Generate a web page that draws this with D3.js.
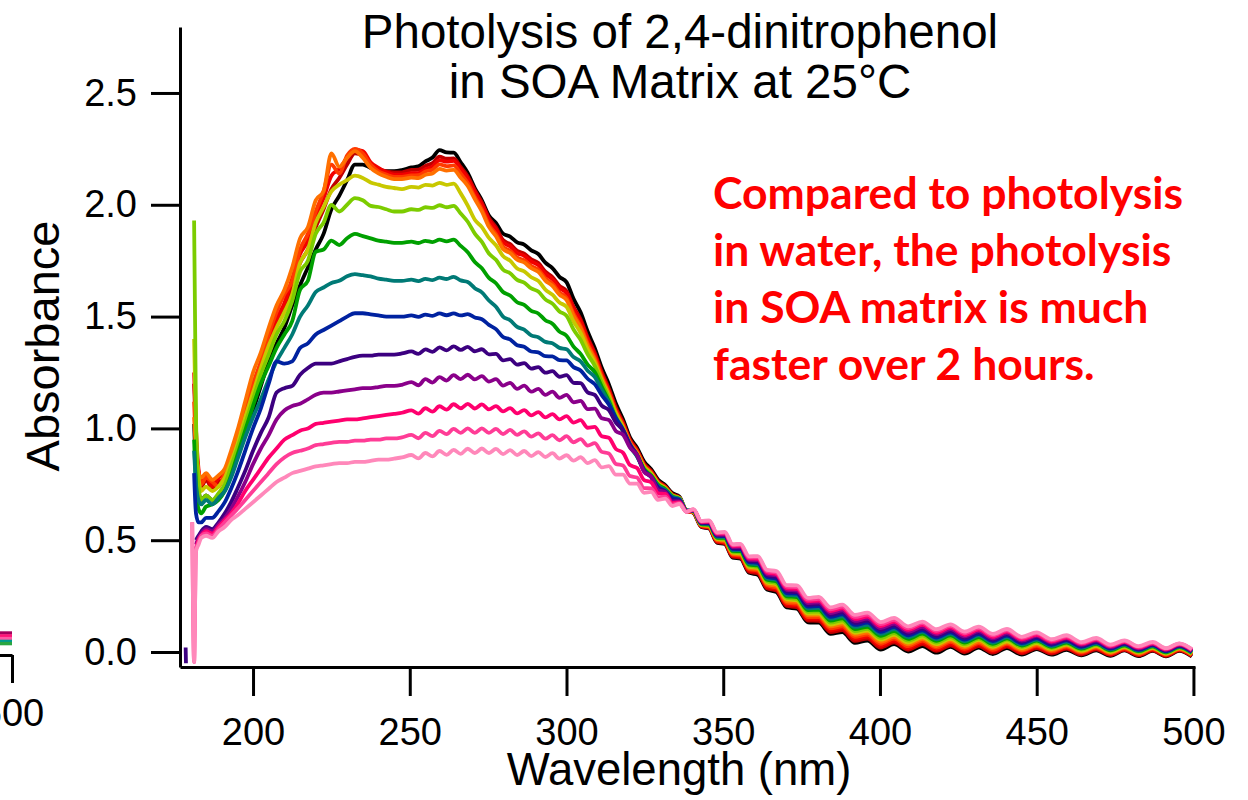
<!DOCTYPE html>
<html>
<head>
<meta charset="utf-8">
<script src="https://cdn.jsdelivr.net/npm/d3@7"></script>
<style>
  html, body { margin: 0; padding: 0; background: #ffffff; }
  svg { display: block; }
</style>
</head>
<body>
<svg id="chart" width="1248" height="800"></svg>
<script>
// Wavelength grid (nm); above 250 nm the points follow the fringe maxima / minima
const wavelengths = [
  178.5, 178.6, 180.6, 181.2, 181.8, 182.6, 183.5, 185, 187, 189, 191, 193, 195, 197.5,
  200, 202.5, 205, 207.5, 210, 212.5, 215, 217.5, 220, 222.5, 225, 227.5, 230, 232.5,
  235, 237.5, 240, 242.5, 245, 247.5,
  250.5, 252.75, 255, 257.25, 259.5, 261.75, 264, 266.25, 268.5, 270.75, 273, 275.25,
  277.5, 279.75, 282, 284.25, 286.5, 288.75, 291, 293.25, 295.5, 297.75, 300, 302.25,
  304.5, 306.75, 309, 311.25, 313.5, 315.75, 318, 320.25, 322.5, 324.75, 327, 329.25,
  331.5, 333.75, 336, 338.25,
  340.5, 343, 345.5, 348, 350.5, 353, 355.5, 358.25, 361, 364, 367, 370.25, 373.5, 377,
  380.5, 384.25, 388, 392, 396, 400.25, 404.5, 409, 413.5, 418, 422.5, 427, 431.5, 436,
  440.5, 445.25, 450, 454.75, 459.5, 464.25, 469, 473.5, 478, 482.5, 487, 491.25, 495.5, 499.5
];

// Absorbance spectra, first scan to last scan
const scan01 = [
  null, null, null, 1.02, 0.82, 0.72, 0.68, 0.70, 0.68, 0.70, 0.74, 0.80, 0.88, 0.98, 1.08, 1.19, 1.30, 1.38, 1.45, 1.55, 1.64, 1.72, 1.80, 1.87, 1.98, 2.04, 2.11, 2.18, 2.18, 2.165, 2.155, 2.15, 2.15, 2.155,
  2.167, 2.172, 2.194, 2.211, 2.244, 2.234, 2.233, 2.190, 2.142, 2.075, 2.020, 1.952, 1.919, 1.871, 1.858, 1.832, 1.822, 1.796, 1.780, 1.741, 1.717, 1.678, 1.654, 1.579, 1.519, 1.433, 1.360, 1.271, 1.198, 1.111, 1.042, 0.960, 0.914, 0.852, 0.818, 0.770, 0.746, 0.711, 0.695, 0.633,
  0.622, 0.559, 0.552, 0.489, 0.483, 0.422, 0.418, 0.354, 0.346, 0.279, 0.268, 0.199, 0.194, 0.133, 0.131, 0.081, 0.089, 0.041, 0.051, 0.011, 0.035, 0.002, 0.027, -0.003, 0.023, -0.007, 0.020, -0.009, 0.018, -0.012, 0.013, -0.012, 0.010, -0.015, 0.008, -0.017, 0.007, -0.018, 0.005, -0.019, 0.005, -0.020
];
const scan02 = [
  null, null, null, 1.20, 0.95, 0.80, 0.74, 0.77, 0.73, 0.76, 0.78, 0.84, 0.92, 1.04, 1.15, 1.26, 1.37, 1.46, 1.53, 1.64, 1.74, 1.80, 1.90, 1.98, 2.07, 2.12, 2.18, 2.23, 2.22, 2.18, 2.16, 2.15, 2.145, 2.145,
  2.156, 2.157, 2.174, 2.186, 2.215, 2.206, 2.207, 2.169, 2.127, 2.065, 2.010, 1.941, 1.899, 1.842, 1.824, 1.794, 1.782, 1.756, 1.740, 1.701, 1.677, 1.638, 1.614, 1.543, 1.488, 1.407, 1.338, 1.251, 1.178, 1.092, 1.028, 0.950, 0.904, 0.842, 0.810, 0.764, 0.741, 0.706, 0.691, 0.632,
  0.623, 0.561, 0.555, 0.492, 0.486, 0.426, 0.422, 0.359, 0.352, 0.285, 0.275, 0.206, 0.201, 0.141, 0.139, 0.089, 0.098, 0.050, 0.060, 0.020, 0.043, 0.010, 0.035, 0.005, 0.030, 0.000, 0.027, -0.003, 0.024, -0.006, 0.018, -0.007, 0.015, -0.011, 0.012, -0.013, 0.010, -0.015, 0.008, -0.017, 0.007, -0.018
];
const scan03 = [
  null, null, null, 1.25, 1.00, 0.82, 0.76, 0.79, 0.74, 0.78, 0.80, 0.86, 0.94, 1.06, 1.17, 1.28, 1.40, 1.49, 1.56, 1.67, 1.78, 1.84, 1.95, 2.03, 2.13, 2.16, 2.21, 2.245, 2.24, 2.19, 2.165, 2.145, 2.135, 2.135,
  2.141, 2.142, 2.159, 2.171, 2.200, 2.193, 2.196, 2.159, 2.117, 2.055, 2.000, 1.931, 1.889, 1.832, 1.814, 1.784, 1.772, 1.746, 1.730, 1.691, 1.667, 1.628, 1.604, 1.533, 1.478, 1.397, 1.328, 1.241, 1.168, 1.083, 1.021, 0.945, 0.899, 0.837, 0.805, 0.759, 0.736, 0.701, 0.687, 0.631,
  0.624, 0.563, 0.557, 0.496, 0.490, 0.431, 0.427, 0.365, 0.358, 0.292, 0.281, 0.213, 0.209, 0.149, 0.148, 0.098, 0.107, 0.059, 0.069, 0.028, 0.051, 0.018, 0.043, 0.012, 0.038, 0.007, 0.034, 0.004, 0.030, 0.000, 0.024, -0.002, 0.019, -0.006, 0.016, -0.010, 0.013, -0.012, 0.011, -0.014, 0.010, -0.015
];
const scan04 = [
  null, null, null, 1.12, 0.92, 0.80, 0.75, 0.78, 0.76, 0.74, 0.80, 0.87, 0.96, 1.08, 1.20, 1.30, 1.42, 1.52, 1.60, 1.66, 1.80, 1.87, 1.97, 2.06, 2.18, 2.14, 2.22, 2.25, 2.23, 2.18, 2.15, 2.135, 2.125, 2.125,
  2.131, 2.132, 2.149, 2.157, 2.181, 2.173, 2.176, 2.139, 2.097, 2.035, 1.980, 1.911, 1.869, 1.812, 1.794, 1.764, 1.752, 1.726, 1.710, 1.671, 1.647, 1.608, 1.584, 1.513, 1.458, 1.380, 1.316, 1.231, 1.158, 1.074, 1.014, 0.940, 0.894, 0.832, 0.802, 0.758, 0.736, 0.701, 0.688, 0.631,
  0.626, 0.565, 0.560, 0.499, 0.494, 0.435, 0.432, 0.370, 0.364, 0.298, 0.288, 0.220, 0.216, 0.156, 0.156, 0.106, 0.115, 0.068, 0.078, 0.037, 0.060, 0.026, 0.051, 0.020, 0.045, 0.014, 0.040, 0.010, 0.036, 0.006, 0.029, 0.003, 0.024, -0.002, 0.020, -0.006, 0.016, -0.009, 0.014, -0.011, 0.012, -0.013
];
const scan05 = [
  null, null, null, 1.05, 0.90, 0.80, 0.78, 0.80, 0.77, 0.79, 0.82, 0.90, 0.99, 1.12, 1.25, 1.34, 1.45, 1.55, 1.62, 1.72, 1.85, 1.90, 2.02, 2.06, 2.23, 2.17, 2.21, 2.24, 2.21, 2.165, 2.14, 2.125, 2.115, 2.115,
  2.121, 2.119, 2.134, 2.140, 2.161, 2.153, 2.156, 2.121, 2.084, 2.025, 1.970, 1.901, 1.859, 1.802, 1.784, 1.754, 1.742, 1.716, 1.700, 1.661, 1.637, 1.598, 1.574, 1.503, 1.448, 1.370, 1.306, 1.224, 1.155, 1.073, 1.011, 0.935, 0.892, 0.832, 0.800, 0.754, 0.733, 0.700, 0.688, 0.632,
  0.627, 0.567, 0.562, 0.502, 0.498, 0.439, 0.437, 0.375, 0.370, 0.304, 0.295, 0.227, 0.224, 0.164, 0.164, 0.115, 0.124, 0.077, 0.087, 0.046, 0.068, 0.034, 0.059, 0.027, 0.052, 0.021, 0.047, 0.017, 0.042, 0.011, 0.034, 0.008, 0.029, 0.002, 0.024, -0.003, 0.020, -0.006, 0.017, -0.009, 0.014, -0.010
];
const scan06 = [
  null, null, null, 1.40, 1.00, 0.78, 0.72, 0.74, 0.72, 0.74, 0.78, 0.85, 0.93, 1.05, 1.16, 1.27, 1.37, 1.45, 1.52, 1.60, 1.74, 1.80, 1.92, 1.99, 2.06, 2.09, 2.11, 2.13, 2.12, 2.10, 2.09, 2.08, 2.075, 2.07,
  2.080, 2.077, 2.089, 2.086, 2.098, 2.089, 2.095, 2.051, 1.996, 1.933, 1.900, 1.852, 1.819, 1.771, 1.750, 1.715, 1.702, 1.676, 1.660, 1.621, 1.598, 1.563, 1.544, 1.478, 1.427, 1.354, 1.294, 1.214, 1.145, 1.064, 1.004, 0.930, 0.887, 0.827, 0.797, 0.753, 0.733, 0.700, 0.688, 0.633,
  0.628, 0.569, 0.565, 0.506, 0.502, 0.444, 0.441, 0.381, 0.376, 0.311, 0.302, 0.235, 0.231, 0.172, 0.172, 0.123, 0.133, 0.086, 0.096, 0.055, 0.077, 0.042, 0.066, 0.035, 0.059, 0.028, 0.054, 0.023, 0.048, 0.017, 0.040, 0.013, 0.033, 0.006, 0.028, 0.001, 0.023, -0.002, 0.019, -0.006, 0.017, -0.008
];
const scan07 = [
  null, null, null, 1.93, 1.05, 0.74, 0.68, 0.70, 0.68, 0.71, 0.75, 0.83, 0.91, 1.02, 1.13, 1.24, 1.33, 1.42, 1.48, 1.57, 1.70, 1.75, 1.87, 1.92, 2.00, 1.97, 2.00, 2.03, 2.02, 1.995, 1.99, 1.98, 1.97, 1.97,
  1.980, 1.977, 1.989, 1.986, 1.998, 1.989, 1.995, 1.961, 1.924, 1.871, 1.834, 1.782, 1.754, 1.710, 1.694, 1.664, 1.652, 1.626, 1.612, 1.577, 1.558, 1.523, 1.504, 1.442, 1.396, 1.331, 1.280, 1.204, 1.135, 1.054, 0.997, 0.925, 0.882, 0.822, 0.792, 0.748, 0.729, 0.699, 0.688, 0.633,
  0.629, 0.570, 0.568, 0.509, 0.506, 0.448, 0.446, 0.386, 0.381, 0.317, 0.308, 0.242, 0.238, 0.180, 0.181, 0.132, 0.142, 0.094, 0.104, 0.063, 0.085, 0.051, 0.074, 0.042, 0.067, 0.035, 0.060, 0.029, 0.055, 0.023, 0.045, 0.018, 0.038, 0.011, 0.032, 0.005, 0.026, 0.001, 0.022, -0.003, 0.019, -0.006
];
const scan08 = [
  null, null, null, 0.95, 0.75, 0.64, 0.62, 0.65, 0.66, 0.68, 0.72, 0.79, 0.88, 0.99, 1.10, 1.20, 1.28, 1.36, 1.42, 1.48, 1.62, 1.66, 1.79, 1.80, 1.84, 1.82, 1.85, 1.87, 1.86, 1.85, 1.84, 1.835, 1.83, 1.83,
  1.835, 1.829, 1.839, 1.833, 1.844, 1.836, 1.844, 1.816, 1.788, 1.744, 1.716, 1.673, 1.649, 1.610, 1.594, 1.564, 1.552, 1.526, 1.514, 1.484, 1.468, 1.433, 1.414, 1.366, 1.333, 1.285, 1.252, 1.186, 1.122, 1.045, 0.990, 0.920, 0.877, 0.817, 0.789, 0.747, 0.728, 0.695, 0.684, 0.632,
  0.630, 0.572, 0.570, 0.512, 0.510, 0.452, 0.451, 0.391, 0.387, 0.323, 0.315, 0.249, 0.246, 0.188, 0.189, 0.140, 0.151, 0.103, 0.113, 0.072, 0.094, 0.059, 0.082, 0.050, 0.074, 0.042, 0.067, 0.036, 0.061, 0.029, 0.051, 0.023, 0.042, 0.015, 0.036, 0.008, 0.030, 0.004, 0.025, -0.001, 0.022, -0.003
];
const scan09 = [
  null, null, null, 0.90, 0.75, 0.68, 0.66, 0.68, 0.66, 0.69, 0.72, 0.78, 0.86, 0.96, 1.05, 1.13, 1.22, 1.30, 1.36, 1.42, 1.50, 1.55, 1.61, 1.63, 1.65, 1.66, 1.68, 1.69, 1.685, 1.68, 1.67, 1.665, 1.66, 1.66,
  1.665, 1.659, 1.669, 1.663, 1.674, 1.668, 1.678, 1.662, 1.655, 1.627, 1.608, 1.572, 1.544, 1.500, 1.484, 1.454, 1.442, 1.416, 1.408, 1.387, 1.381, 1.360, 1.354, 1.319, 1.300, 1.258, 1.230, 1.171, 1.116, 1.045, 0.990, 0.920, 0.874, 0.812, 0.784, 0.742, 0.724, 0.694, 0.685, 0.633,
  0.632, 0.574, 0.573, 0.515, 0.514, 0.456, 0.456, 0.396, 0.393, 0.329, 0.322, 0.256, 0.253, 0.195, 0.197, 0.149, 0.159, 0.112, 0.122, 0.081, 0.102, 0.067, 0.090, 0.057, 0.081, 0.049, 0.074, 0.042, 0.067, 0.034, 0.056, 0.027, 0.047, 0.019, 0.039, 0.012, 0.033, 0.007, 0.028, 0.002, 0.024, -0.001
];
const scan10 = [
  null, null, null, 0.80, 0.62, 0.58, 0.58, 0.60, 0.60, 0.63, 0.67, 0.73, 0.80, 0.90, 1.00, 1.09, 1.20, 1.30, 1.29, 1.30, 1.36, 1.38, 1.42, 1.44, 1.46, 1.48, 1.50, 1.515, 1.515, 1.51, 1.505, 1.50, 1.50, 1.50,
  1.505, 1.499, 1.509, 1.503, 1.514, 1.506, 1.514, 1.505, 1.511, 1.496, 1.488, 1.463, 1.444, 1.409, 1.398, 1.372, 1.365, 1.344, 1.340, 1.323, 1.322, 1.305, 1.304, 1.274, 1.259, 1.222, 1.198, 1.149, 1.107, 1.047, 0.996, 0.930, 0.879, 0.813, 0.782, 0.738, 0.719, 0.689, 0.681, 0.632,
  0.633, 0.576, 0.575, 0.519, 0.518, 0.461, 0.460, 0.402, 0.399, 0.336, 0.328, 0.263, 0.261, 0.203, 0.205, 0.157, 0.168, 0.121, 0.131, 0.090, 0.111, 0.075, 0.097, 0.065, 0.088, 0.056, 0.080, 0.049, 0.073, 0.040, 0.061, 0.032, 0.052, 0.023, 0.043, 0.015, 0.036, 0.010, 0.031, 0.004, 0.027, 0.001
];
const scan11 = [
  0.02, -0.05, null, null, 0.50, 0.52, 0.54, 0.56, 0.55, 0.58, 0.62, 0.67, 0.73, 0.81, 0.90, 0.98, 1.05, 1.16, 1.18, 1.19, 1.24, 1.27, 1.29, 1.29, 1.29, 1.30, 1.31, 1.32, 1.325, 1.325, 1.33, 1.33, 1.33, 1.335,
  1.344, 1.333, 1.353, 1.342, 1.362, 1.349, 1.367, 1.351, 1.365, 1.345, 1.354, 1.331, 1.333, 1.304, 1.310, 1.285, 1.292, 1.267, 1.274, 1.249, 1.256, 1.231, 1.238, 1.204, 1.202, 1.161, 1.150, 1.102, 1.082, 1.026, 0.992, 0.926, 0.883, 0.809, 0.784, 0.730, 0.718, 0.680, 0.677, 0.631,
  0.634, 0.578, 0.578, 0.522, 0.522, 0.465, 0.465, 0.407, 0.405, 0.342, 0.335, 0.271, 0.268, 0.211, 0.214, 0.166, 0.177, 0.130, 0.140, 0.099, 0.119, 0.083, 0.105, 0.072, 0.095, 0.063, 0.087, 0.055, 0.079, 0.046, 0.067, 0.037, 0.056, 0.028, 0.047, 0.019, 0.039, 0.013, 0.033, 0.007, 0.029, 0.004
];
const scan12 = [
  null, null, null, null, 0.48, 0.51, 0.53, 0.55, 0.54, 0.57, 0.60, 0.64, 0.69, 0.76, 0.84, 0.91, 0.97, 1.04, 1.08, 1.10, 1.11, 1.13, 1.15, 1.16, 1.16, 1.165, 1.17, 1.175, 1.18, 1.18, 1.185, 1.19, 1.19, 1.195,
  1.207, 1.193, 1.220, 1.205, 1.229, 1.214, 1.238, 1.220, 1.240, 1.219, 1.234, 1.209, 1.220, 1.191, 1.204, 1.177, 1.191, 1.164, 1.177, 1.150, 1.164, 1.137, 1.150, 1.117, 1.123, 1.086, 1.088, 1.045, 1.038, 0.988, 0.972, 0.914, 0.880, 0.806, 0.784, 0.724, 0.715, 0.673, 0.673, 0.629,
  0.635, 0.580, 0.581, 0.525, 0.525, 0.469, 0.470, 0.412, 0.411, 0.348, 0.342, 0.278, 0.275, 0.219, 0.222, 0.174, 0.186, 0.139, 0.149, 0.107, 0.127, 0.091, 0.113, 0.080, 0.103, 0.070, 0.094, 0.061, 0.085, 0.051, 0.072, 0.042, 0.061, 0.032, 0.051, 0.022, 0.043, 0.016, 0.036, 0.010, 0.032, 0.006
];
const scan13 = [
  null, null, null, null, 0.46, 0.50, 0.52, 0.54, 0.53, 0.56, 0.59, 0.62, 0.66, 0.72, 0.77, 0.82, 0.87, 0.91, 0.95, 0.97, 0.99, 1.00, 1.02, 1.025, 1.03, 1.035, 1.04, 1.04, 1.045, 1.05, 1.055, 1.06, 1.065, 1.07,
  1.081, 1.066, 1.090, 1.075, 1.099, 1.084, 1.108, 1.090, 1.110, 1.089, 1.107, 1.085, 1.100, 1.076, 1.091, 1.067, 1.082, 1.058, 1.073, 1.049, 1.064, 1.040, 1.055, 1.026, 1.037, 1.003, 1.007, 0.965, 0.958, 0.908, 0.892, 0.836, 0.823, 0.769, 0.759, 0.710, 0.707, 0.666, 0.669, 0.628,
  0.636, 0.582, 0.583, 0.529, 0.529, 0.474, 0.475, 0.418, 0.417, 0.355, 0.348, 0.285, 0.283, 0.227, 0.230, 0.183, 0.195, 0.148, 0.158, 0.116, 0.136, 0.099, 0.121, 0.087, 0.110, 0.077, 0.100, 0.068, 0.091, 0.057, 0.077, 0.047, 0.065, 0.036, 0.055, 0.026, 0.046, 0.020, 0.039, 0.012, 0.034, 0.008
];
const scan14 = [
  null, null, 0.58, -0.045, 0.46, 0.49, 0.52, 0.53, 0.52, 0.55, 0.58, 0.61, 0.64, 0.68, 0.72, 0.76, 0.80, 0.84, 0.87, 0.89, 0.90, 0.91, 0.925, 0.93, 0.935, 0.94, 0.94, 0.945, 0.945, 0.95, 0.95, 0.955, 0.955, 0.96,
  0.971, 0.956, 0.980, 0.965, 0.989, 0.974, 0.998, 0.980, 1.000, 0.980, 1.000, 0.980, 0.998, 0.975, 0.993, 0.971, 0.987, 0.963, 0.978, 0.954, 0.970, 0.947, 0.965, 0.938, 0.952, 0.923, 0.934, 0.895, 0.888, 0.841, 0.834, 0.787, 0.780, 0.733, 0.732, 0.692, 0.695, 0.659, 0.666, 0.627,
  0.638, 0.584, 0.586, 0.532, 0.533, 0.478, 0.479, 0.423, 0.423, 0.361, 0.355, 0.292, 0.290, 0.234, 0.238, 0.191, 0.203, 0.157, 0.167, 0.125, 0.144, 0.107, 0.129, 0.095, 0.117, 0.084, 0.107, 0.074, 0.097, 0.063, 0.083, 0.052, 0.070, 0.040, 0.059, 0.029, 0.049, 0.023, 0.042, 0.015, 0.037, 0.011
];
const scan15 = [
  null, null, 0.58, -0.045, 0.45, 0.48, 0.51, 0.52, 0.51, 0.54, 0.56, 0.59, 0.61, 0.64, 0.67, 0.70, 0.73, 0.76, 0.78, 0.80, 0.81, 0.82, 0.83, 0.835, 0.84, 0.845, 0.845, 0.85, 0.85, 0.855, 0.86, 0.86, 0.865, 0.87,
  0.881, 0.866, 0.890, 0.875, 0.899, 0.882, 0.904, 0.886, 0.909, 0.890, 0.910, 0.890, 0.908, 0.885, 0.903, 0.881, 0.899, 0.876, 0.894, 0.872, 0.889, 0.865, 0.880, 0.856, 0.871, 0.845, 0.858, 0.826, 0.831, 0.793, 0.793, 0.753, 0.753, 0.712, 0.716, 0.680, 0.686, 0.653, 0.662, 0.627,
  0.639, 0.586, 0.589, 0.535, 0.537, 0.482, 0.484, 0.428, 0.429, 0.367, 0.362, 0.299, 0.298, 0.242, 0.247, 0.200, 0.212, 0.166, 0.176, 0.134, 0.153, 0.115, 0.136, 0.102, 0.124, 0.091, 0.114, 0.081, 0.103, 0.068, 0.088, 0.057, 0.075, 0.044, 0.063, 0.033, 0.052, 0.026, 0.045, 0.017, 0.039, 0.013
];

const scans = [scan01, scan02, scan03, scan04, scan05, scan06, scan07, scan08,
               scan09, scan10, scan11, scan12, scan13, scan14, scan15];
const scanColors = ["#000000", "#c00000", "#f20000", "#ff3a00", "#ff7000", "#c8c800",
                    "#7ccc00", "#00a000", "#007a76", "#0022a0", "#3c0080", "#8a008a",
                    "#ff006e", "#ff3c96", "#ff88ba"];

const absorbanceTicks = [0, 0.5, 1.0, 1.5, 2.0, 2.5];
const wavelengthTicks = [200, 250, 300, 350, 400, 450, 500];
const titleLines = ["Photolysis of 2,4-dinitrophenol", "in SOA Matrix at 25\u00B0C"];
const noteLines = ["Compared to photolysis", "in water, the photolysis",
                   "in SOA matrix is much", "faster over 2 hours."];

// Right-hand end of the neighbouring panel at the left edge
const neighbourWavelengths = [490, 500];
const neighbourEnds = [0.075, 0.06, 0.047, 0.033, 0.022];
const neighbourColors = ["#a4005c", "#ff1478", "#ff5aa6", "#009a8e", "#2aa640"];

const FONT = "'Liberation Sans', Arial, Helvetica, sans-serif";
const svg = d3.select("#chart");

const x = d3.scaleLinear().domain([176.7, 500.5]).range([180, 1195]);
const y = d3.scaleLinear().domain([-0.067, 2.795]).range([667, 27]);

svg.append("defs").append("clipPath").attr("id", "plotArea")
  .append("rect").attr("x", 181).attr("y", 0).attr("width", 1020).attr("height", 666);

// spectra
const spectrum = d3.line()
  .defined(d => d[1] !== null)
  .x(d => x(d[0]))
  .y(d => y(d[1]))
  .curve(d3.curveMonotoneX);

const traces = svg.append("g").attr("clip-path", "url(#plotArea)");
scans.forEach((values, i) => {
  const pts = wavelengths.map((w, j) => [w, values[j] === undefined ? null : values[j]]);
  traces.append("path")
    .datum(pts)
    .attr("d", spectrum)
    .attr("fill", "none")
    .attr("stroke", scanColors[i])
    .attr("stroke-width", 3.8)
    .attr("stroke-linejoin", "round")
    .attr("stroke-linecap", "butt");
});

function styleAxis(g) {
  g.attr("font-family", FONT).attr("font-size", 38);
  g.select(".domain").attr("stroke", "#000").attr("stroke-width", 3);
  g.selectAll(".tick line").attr("stroke", "#000").attr("stroke-width", 3);
  g.selectAll(".tick text").attr("fill", "#000");
}

// axes
const yAxis = d3.axisLeft(y).tickValues(absorbanceTicks).tickFormat(d3.format(".1f"))
  .tickSize(29).tickSizeOuter(0).tickPadding(14);
const gy = svg.append("g").attr("transform", "translate(180,0)").call(yAxis);
styleAxis(gy);

const xAxis = d3.axisBottom(x).tickValues(wavelengthTicks).tickFormat(d3.format("d"))
  .tickSize(29).tickSizeOuter(0).tickPadding(22);
const gx = svg.append("g").attr("transform", "translate(0,667)").call(xAxis);
styleAxis(gx);

// axis titles
svg.append("text")
  .attr("x", 679).attr("y", 785)
  .attr("text-anchor", "middle")
  .attr("font-family", FONT).attr("font-size", 45.5)
  .text("Wavelength (nm)");

svg.append("text")
  .attr("transform", "translate(59,346) rotate(-90)")
  .attr("text-anchor", "middle")
  .attr("font-family", FONT).attr("font-size", 47)
  .text("Absorbance");

// title
svg.append("g").selectAll("text").data(titleLines).join("text")
  .attr("x", 680).attr("y", (d, i) => 48 + i * 50)
  .attr("text-anchor", "middle")
  .attr("font-family", FONT).attr("font-size", 47.5)
  .text(d => d);

// annotation
svg.append("g").selectAll("text").data(noteLines).join("text")
  .attr("x", 713).attr("y", (d, i) => 209 + i * 57)
  .attr("font-family", "Lato, 'Open Sans', sans-serif")
  .attr("font-weight", 700).attr("font-size", 44.5)
  .attr("fill", "#ff0000")
  .text(d => d);

// neighbouring panel edge
const xN = d3.scaleLinear().domain([460, 500]).range([-112, 12]);
const yN = d3.scaleLinear().domain([0, 0.1]).range([648, 628]);
const gN = svg.append("g");
neighbourEnds.forEach((v, i) => {
  gN.append("path")
    .datum(neighbourWavelengths.map(w => [w, v]))
    .attr("d", d3.line().x(d => xN(d[0])).y(d => yN(d[1])))
    .attr("fill", "none").attr("stroke", neighbourColors[i]).attr("stroke-width", 3.4);
});
const gNx = gN.append("g").attr("transform", "translate(0,655)")
  .call(d3.axisBottom(xN).tickValues([500]).tickFormat(d3.format("d"))
    .tickSize(28).tickSizeOuter(0).tickPadding(16));
styleAxis(gNx);
</script>
</body>
</html>
